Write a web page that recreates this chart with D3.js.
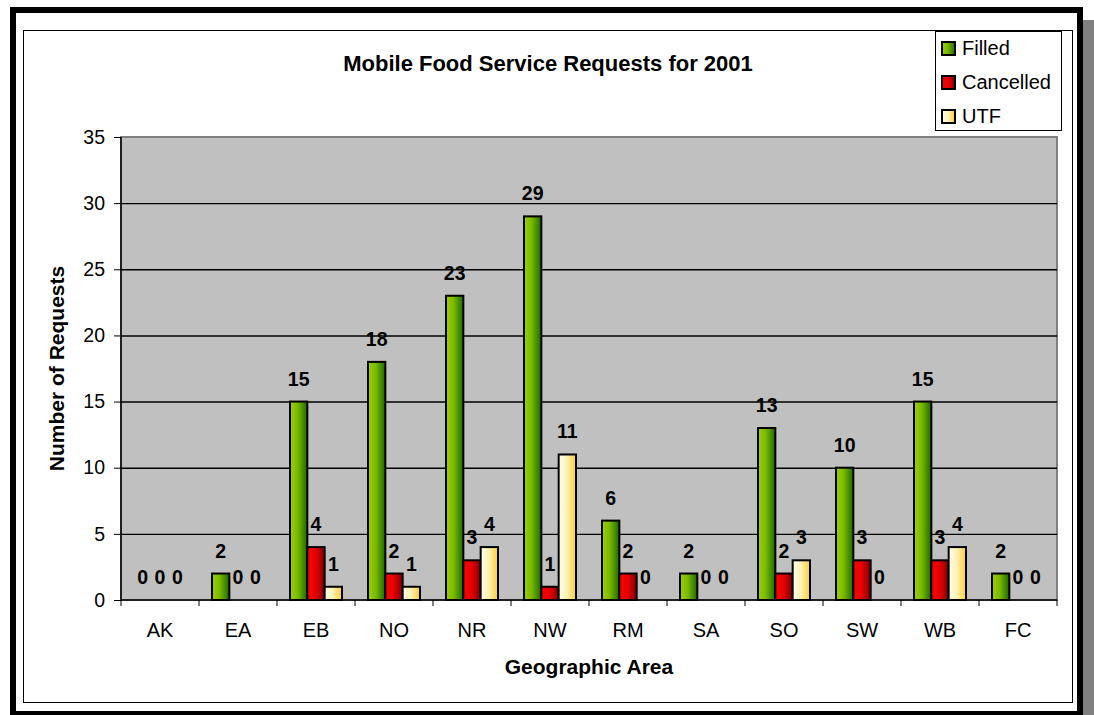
<!DOCTYPE html>
<html><head><meta charset="utf-8">
<script src="https://cdn.jsdelivr.net/npm/d3@7"></script>
<style>body{margin:0;background:#fff}svg{display:block}text{font-family:"Liberation Sans",Arial,sans-serif}</style>
</head><body>
<svg id="c" width="1094" height="715"></svg>
<script>
const categories = ["AK","EA","EB","NO","NR","NW","RM","SA","SO","SW","WB","FC"];
const seriesNames = ["Filled","Cancelled","UTF"];
const filled    = [0,2,15,18,23,29,6,2,13,10,15,2];
const cancelled = [0,0,4,2,3,1,2,0,2,3,3,0];
const utf       = [0,0,1,1,4,11,0,0,3,0,4,0];
const yTicks = [0,5,10,15,20,25,30,35];
const title = "Mobile Food Service Requests for 2001";
const xTitle = "Geographic Area";
const yTitle = "Number of Requests";

const values = [filled, cancelled, utf];
const svg = d3.select("#c");
const defs = svg.append("defs");
const grads = [
  ["gF", [["0%","#a0d000"],["45%","#78b800"],["100%","#1c6a00"]]],
  ["gC", [["0%","#ff0000"],["50%","#e40000"],["100%","#7a0000"]]],
  ["gU", [["0%","#ffffee"],["50%","#fff0b0"],["100%","#ffcc33"]]]
];
grads.forEach(([id, stops]) => {
  const g = defs.append("linearGradient").attr("id", id).attr("x1","0").attr("x2","1").attr("y1","0").attr("y2","0");
  stops.forEach(([o,c]) => g.append("stop").attr("offset",o).attr("stop-color",c));
});
const fills = ["url(#gF)","url(#gC)","url(#gU)"];

// outer frame with shadow
svg.append("rect").attr("x",20).attr("y",20).attr("width",1074).attr("height",705).attr("fill","#808080");
svg.append("rect").attr("x",13).attr("y",10).attr("width",1067).attr("height",704).attr("fill","#fff").attr("stroke","#000").attr("stroke-width",6);
svg.append("rect").attr("x",23.5).attr("y",30.5).attr("width",1049).attr("height",672).attr("fill","#fff").attr("stroke","#000").attr("stroke-width",1);

const L = 121, R = 1057, T = 137, B = 600;
const x0 = d3.scaleBand().domain(categories).range([L,R]).padding(0);
const x1 = d3.scaleBand().domain(seriesNames).range([0,x0.bandwidth()]).paddingInner(0).paddingOuter(0.75);
const y = d3.scaleLinear().domain([0,35]).range([B,T]);

// plot area
svg.append("rect").attr("x",L).attr("y",T).attr("width",R-L).attr("height",B-T).attr("fill","#c0c0c0").attr("stroke","#808080").attr("stroke-width",2);

// gridlines
svg.append("g").selectAll("line").data(yTicks.filter(t=>t>0 && t<35)).join("line")
  .attr("x1",L).attr("x2",R).attr("y1",d=>y(d)+0.5).attr("y2",d=>y(d)+0.5)
  .attr("stroke","#000").attr("stroke-width",1.4);

// bars
const groups = svg.append("g").selectAll("g").data(categories).join("g")
  .attr("transform", d=>`translate(${x0(d)},0)`);
groups.selectAll("rect").data((d,i)=>seriesNames.map((s,j)=>({s,j,v:values[j][i]}))).join("rect")
  .filter(d=>d.v>0)
  .attr("x",d=>x1(d.s)).attr("width",x1.bandwidth())
  .attr("y",d=>y(d.v)).attr("height",d=>B-y(d.v))
  .attr("fill",d=>fills[d.j]).attr("stroke","#000").attr("stroke-width",2);
groups.selectAll("text").data((d,i)=>seriesNames.map((s,j)=>({s,j,v:values[j][i]}))).join("text")
  .attr("x",d=>x1(d.s)+x1.bandwidth()/2).attr("y",d=>y(d.v)-16)
  .attr("text-anchor","middle").attr("font-weight","bold").attr("font-size",19.5).attr("fill","#000")
  .text(d=>d.v);

// axes
const yAxis = svg.append("g").attr("transform",`translate(${L},0)`)
  .call(d3.axisLeft(y).tickValues(yTicks).tickSize(7).tickPadding(9));
yAxis.select(".domain").attr("stroke","#000").attr("stroke-width",1.5).attr("d",`M0,${T}V${B}`);
yAxis.selectAll(".tick line").attr("stroke","#000");
yAxis.selectAll("text").attr("font-size",19.5).attr("fill","#000").attr("font-family","Liberation Sans, Arial, sans-serif");

const xAxis = svg.append("g").attr("transform",`translate(0,${B})`)
  .call(d3.axisBottom(x0).tickSize(0).tickPadding(23));
xAxis.select(".domain").attr("stroke","#000").attr("stroke-width",1.5).attr("d",`M${L},0H${R}`);
xAxis.selectAll("text").attr("font-size",20).attr("fill","#000").attr("font-family","Liberation Sans, Arial, sans-serif");
svg.append("g").selectAll("line").data(categories.concat(["_end"])).join("line")
  .attr("x1",(d,i)=>L+i*x0.step()).attr("x2",(d,i)=>L+i*x0.step())
  .attr("y1",B).attr("y2",B+6).attr("stroke","#000").attr("stroke-width",1);

// titles
svg.append("text").attr("x",548).attr("y",71).attr("text-anchor","middle").attr("font-weight","bold").attr("font-size",22).text(title);
svg.append("text").attr("x",(L+R)/2).attr("y",674).attr("text-anchor","middle").attr("font-weight","bold").attr("font-size",21).text(xTitle);
svg.append("text").attr("transform",`translate(63.5,${(T+B)/2}) rotate(-90)`).attr("text-anchor","middle").attr("font-weight","bold").attr("font-size",21).text(yTitle);

// legend
const lg = svg.append("g");
lg.append("rect").attr("x",935.5).attr("y",31.5).attr("width",126).attr("height",99).attr("fill","#fff").attr("stroke","#000").attr("stroke-width",1);
seriesNames.forEach((s,i)=>{
  const cy = 48 + i*34;
  lg.append("rect").attr("x",942).attr("y",cy-6).attr("width",13).attr("height",13).attr("fill",fills[i]).attr("stroke","#000").attr("stroke-width",2);
  lg.append("text").attr("x",962).attr("y",cy+7).attr("font-size",20).text(s);
});
</script>
</body></html>
